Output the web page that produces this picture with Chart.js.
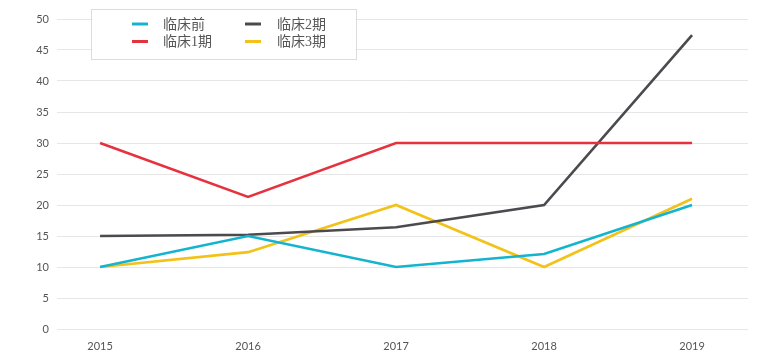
<!DOCTYPE html>
<html>
<head>
<meta charset="utf-8">
<script src="https://cdn.jsdelivr.net/npm/chart.js@4/dist/chart.umd.min.js"></script>
<style>
  html, body { margin: 0; padding: 0; background: #fff; }
  #wrap { width: 762px; height: 362px; }
</style>
</head>
<body>
<div id="wrap"><canvas id="chart"></canvas></div>
<script>
// 年份
const years = [2015, 2016, 2017, 2018, 2019];

// 各阶段数值
const preClinical = [10, 15, 10, 12.1, 20];
const phase1 = [30, 21.3, 30, 30, 30];
const phase2 = [15, 15.2, 16.4, 20, 47.4];
const phase3 = [10, 12.4, 20, 10, 21];

// y轴刻度
const yTicks = [0, 5, 10, 15, 20, 25, 30, 35, 40, 45, 50];

const seriesNames = ['临床前', '临床1期', '临床2期', '临床3期'];
const seriesColors = ['#14b4cf', '#e5323e', '#4c4a4f', '#f2c219'];
const seriesValues = [preClinical, phase1, phase2, phase3];

function toPoints(values) {
    return years.map((y, i) => ({ x: y, y: values[i] }));
}

// 图例（两列，带边框）
const boxLegend = {
    id: 'boxLegend',
    afterDatasetsDraw(chart) {
        const ctx = chart.ctx;
        const ds = chart.data.datasets;
        ctx.save();
        ctx.fillStyle = '#fff';
        ctx.fillRect(91.5, 9.5, 265, 50);
        ctx.strokeStyle = '#dcdcdc';
        ctx.lineWidth = 1;
        ctx.strokeRect(91.5, 9.5, 265, 50);
        ctx.font = "14px 'Liberation Serif', 'Noto Sans CJK SC', serif";
        ctx.textBaseline = 'middle';
        ds.forEach((d, i) => {
            const col = Math.floor(i / 2);
            const row = i % 2;
            const mx = col === 0 ? 132 : 245;
            const tx = col === 0 ? 163 : 277;
            const my = row === 0 ? 24 : 41.5;
            ctx.strokeStyle = d.borderColor;
            ctx.lineWidth = 3;
            ctx.beginPath();
            ctx.moveTo(mx, my);
            ctx.lineTo(mx + 16, my);
            ctx.stroke();
            ctx.fillStyle = '#555';
            ctx.fillText(d.label, tx, my + 1);
        });
        ctx.restore();
    }
};

new Chart(document.getElementById('chart'), {
    type: 'line',
    data: {
        datasets: seriesNames.map((name, i) => ({
            label: name,
            data: toPoints(seriesValues[i]),
            borderColor: seriesColors[i],
            backgroundColor: seriesColors[i],
            borderWidth: 2.6,
            pointRadius: 0,
            tension: 0
        }))
    },
    options: {
        responsive: true,
        maintainAspectRatio: false,
        animation: false,
        layout: { padding: { left: 0, right: 14, top: 19, bottom: 0 } },
        plugins: {
            legend: { display: false },
            tooltip: { enabled: false }
        },
        scales: {
            x: {
                type: 'linear',
                min: 2014.709,
                max: 2019.378,
                grid: { display: false },
                border: { display: false },
                afterBuildTicks: s => { s.ticks = years.map(v => ({ value: v })); },
                afterFit: s => { s.height = 33; },
                ticks: {
                    padding: 3,
                    color: '#555',
                    font: { family: 'Lato', size: 11 },
                    callback: v => String(v)
                }
            },
            y: {
                min: 0,
                max: 50,
                afterBuildTicks: s => { s.ticks = yTicks.map(v => ({ value: v })); },
                afterFit: s => { s.width = 57; },
                grid: { color: '#e6e6e6', drawTicks: false },
                border: { display: false },
                ticks: {
                    padding: 8,
                    color: '#555',
                    font: { family: 'Lato', size: 11 }
                }
            }
        }
    },
    plugins: [boxLegend]
});
</script>
</body>
</html>
